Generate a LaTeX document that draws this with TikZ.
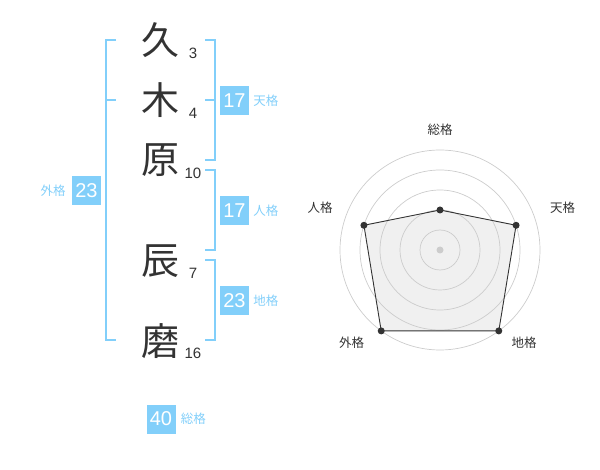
\documentclass[tikz,border=0pt]{standalone}
\usepackage{fontspec}
\setmainfont{Liberation Sans}
\newfontfamily\jp{Noto Sans CJK JP}
\usetikzlibrary{calc,positioning}
\definecolor{kakublue}{HTML}{82CFFA}
\definecolor{moji}{HTML}{333333}
\definecolor{grid}{HTML}{CCCCCC}
\definecolor{area}{HTML}{F0F0F0}

\begin{document}
\begin{tikzpicture}[x=1pt, y=-1pt]
  \tikzstyle{kanji}=[text=moji, font=\jp\fontsize{38}{38}\selectfont, inner sep=0pt]
  \tikzstyle{stroke}=[text=moji, font=\fontsize{15}{15}\selectfont, inner sep=0pt]
  \tikzstyle{kaku}=[rectangle, fill=kakublue, text=white, minimum width=29pt, minimum height=29pt, inner sep=0pt, font=\fontsize{20}{20}\selectfont]
  \tikzstyle{kakuname}=[text=kakublue, font=\jp\fontsize{12.5}{12.5}\selectfont, inner sep=0pt]
  \tikzstyle{bracket}=[draw=kakublue, line width=2pt]
  \tikzstyle{axis}=[text=moji, font=\jp\fontsize{12.5}{12.5}\selectfont, inner sep=0pt]
  \tikzstyle{dot}=[circle, fill=moji, inner sep=0pt, minimum size=7pt]

  \useasboundingbox (0,0) rectangle (600,470);

  % Nombre
  \node[kanji] (c1) at (160,40) {久};
  \node[kanji] (c2) at (160,100) {木};
  \node[kanji] (c3) at (160,160) {原};
  \node[kanji] (c4) at (160,261) {辰};
  \node[kanji] (c5) at (160,341) {磨};

  % Trazos
  \node[stroke] (n1) at (193,53) {3};
  \node[stroke] (n2) at (193,113) {4};
  \node[stroke] (n3) at (193,173) {10};
  \node[stroke] (n4) at (193,273) {7};
  \node[stroke] (n5) at (193,353) {16};

  % Corchetes
  \draw[bracket] (116,40) -- (106,40) -- (106,340) -- (116,340);
  \draw[bracket] (106,100) -- (116,100);
  \draw[bracket] (205,40) -- (215,40) -- (215,160) -- (205,160);
  \draw[bracket] (205,100) -- (215,100);
  \draw[bracket] (205,170) -- (215,170) -- (215,250) -- (205,250);
  \draw[bracket] (205,260) -- (215,260) -- (215,340) -- (205,340);

  % Cajas
  \node[kaku] (ten) at (234.5,100.5) {17};
  \node[kaku] (jin) at (234.5,210.5) {17};
  \node[kaku] (chi) at (234.5,300.5) {23};
  \node[kaku] (gai) at (86.5,190.5) {23};
  \node[kaku] (sou) at (161,419) {40};
  \node[kakuname, right=4pt of ten] (tenl) {天格};
  \node[kakuname, right=4pt of jin] (jinl) {人格};
  \node[kakuname, right=4pt of chi] (chil) {地格};
  \node[kakuname, left=6pt of gai] (gail) {外格};
  \node[kakuname, right=5pt of sou] (soul) {総格};

  % Radar
  \coordinate (o) at (440,250);
  \coordinate (rsou) at ($(o)+(-90:40)$);
  \coordinate (rten) at ($(o)+(-18:80)$);
  \coordinate (rchi) at ($(o)+(54:100)$);
  \coordinate (rgai) at ($(o)+(126:100)$);
  \coordinate (rjin) at ($(o)+(198:80)$);
  \fill[area] (rsou) -- (rten) -- (rchi) -- (rgai) -- (rjin) -- cycle;
  \foreach \r in {20,40,...,100}
    \draw[grid, line width=0.7pt] (o) circle[radius=\r pt];
  \fill[grid] (o) circle[radius=3.5pt];
  \draw[moji, line width=0.9pt] (rsou) -- (rten) -- (rchi) -- (rgai) -- (rjin) -- cycle;
  \foreach \p in {sou,ten,chi,gai,jin}
    \node[dot] (d\p) at (r\p) {};

  % Etiquetas
  \node[axis] (asou) at ($(o)+(0,-120)$) {総格};
  \node[axis] (aten) at ($(o)+(122.7,-42)$) {天格};
  \node[axis] (achi) at ($(o)+(84.2,92.5)$) {地格};
  \node[axis] (agai) at ($(o)+(-88.3,92.5)$) {外格};
  \node[axis] (ajin) at ($(o)+(-120,-42)$) {人格};
\end{tikzpicture}
\end{document}
